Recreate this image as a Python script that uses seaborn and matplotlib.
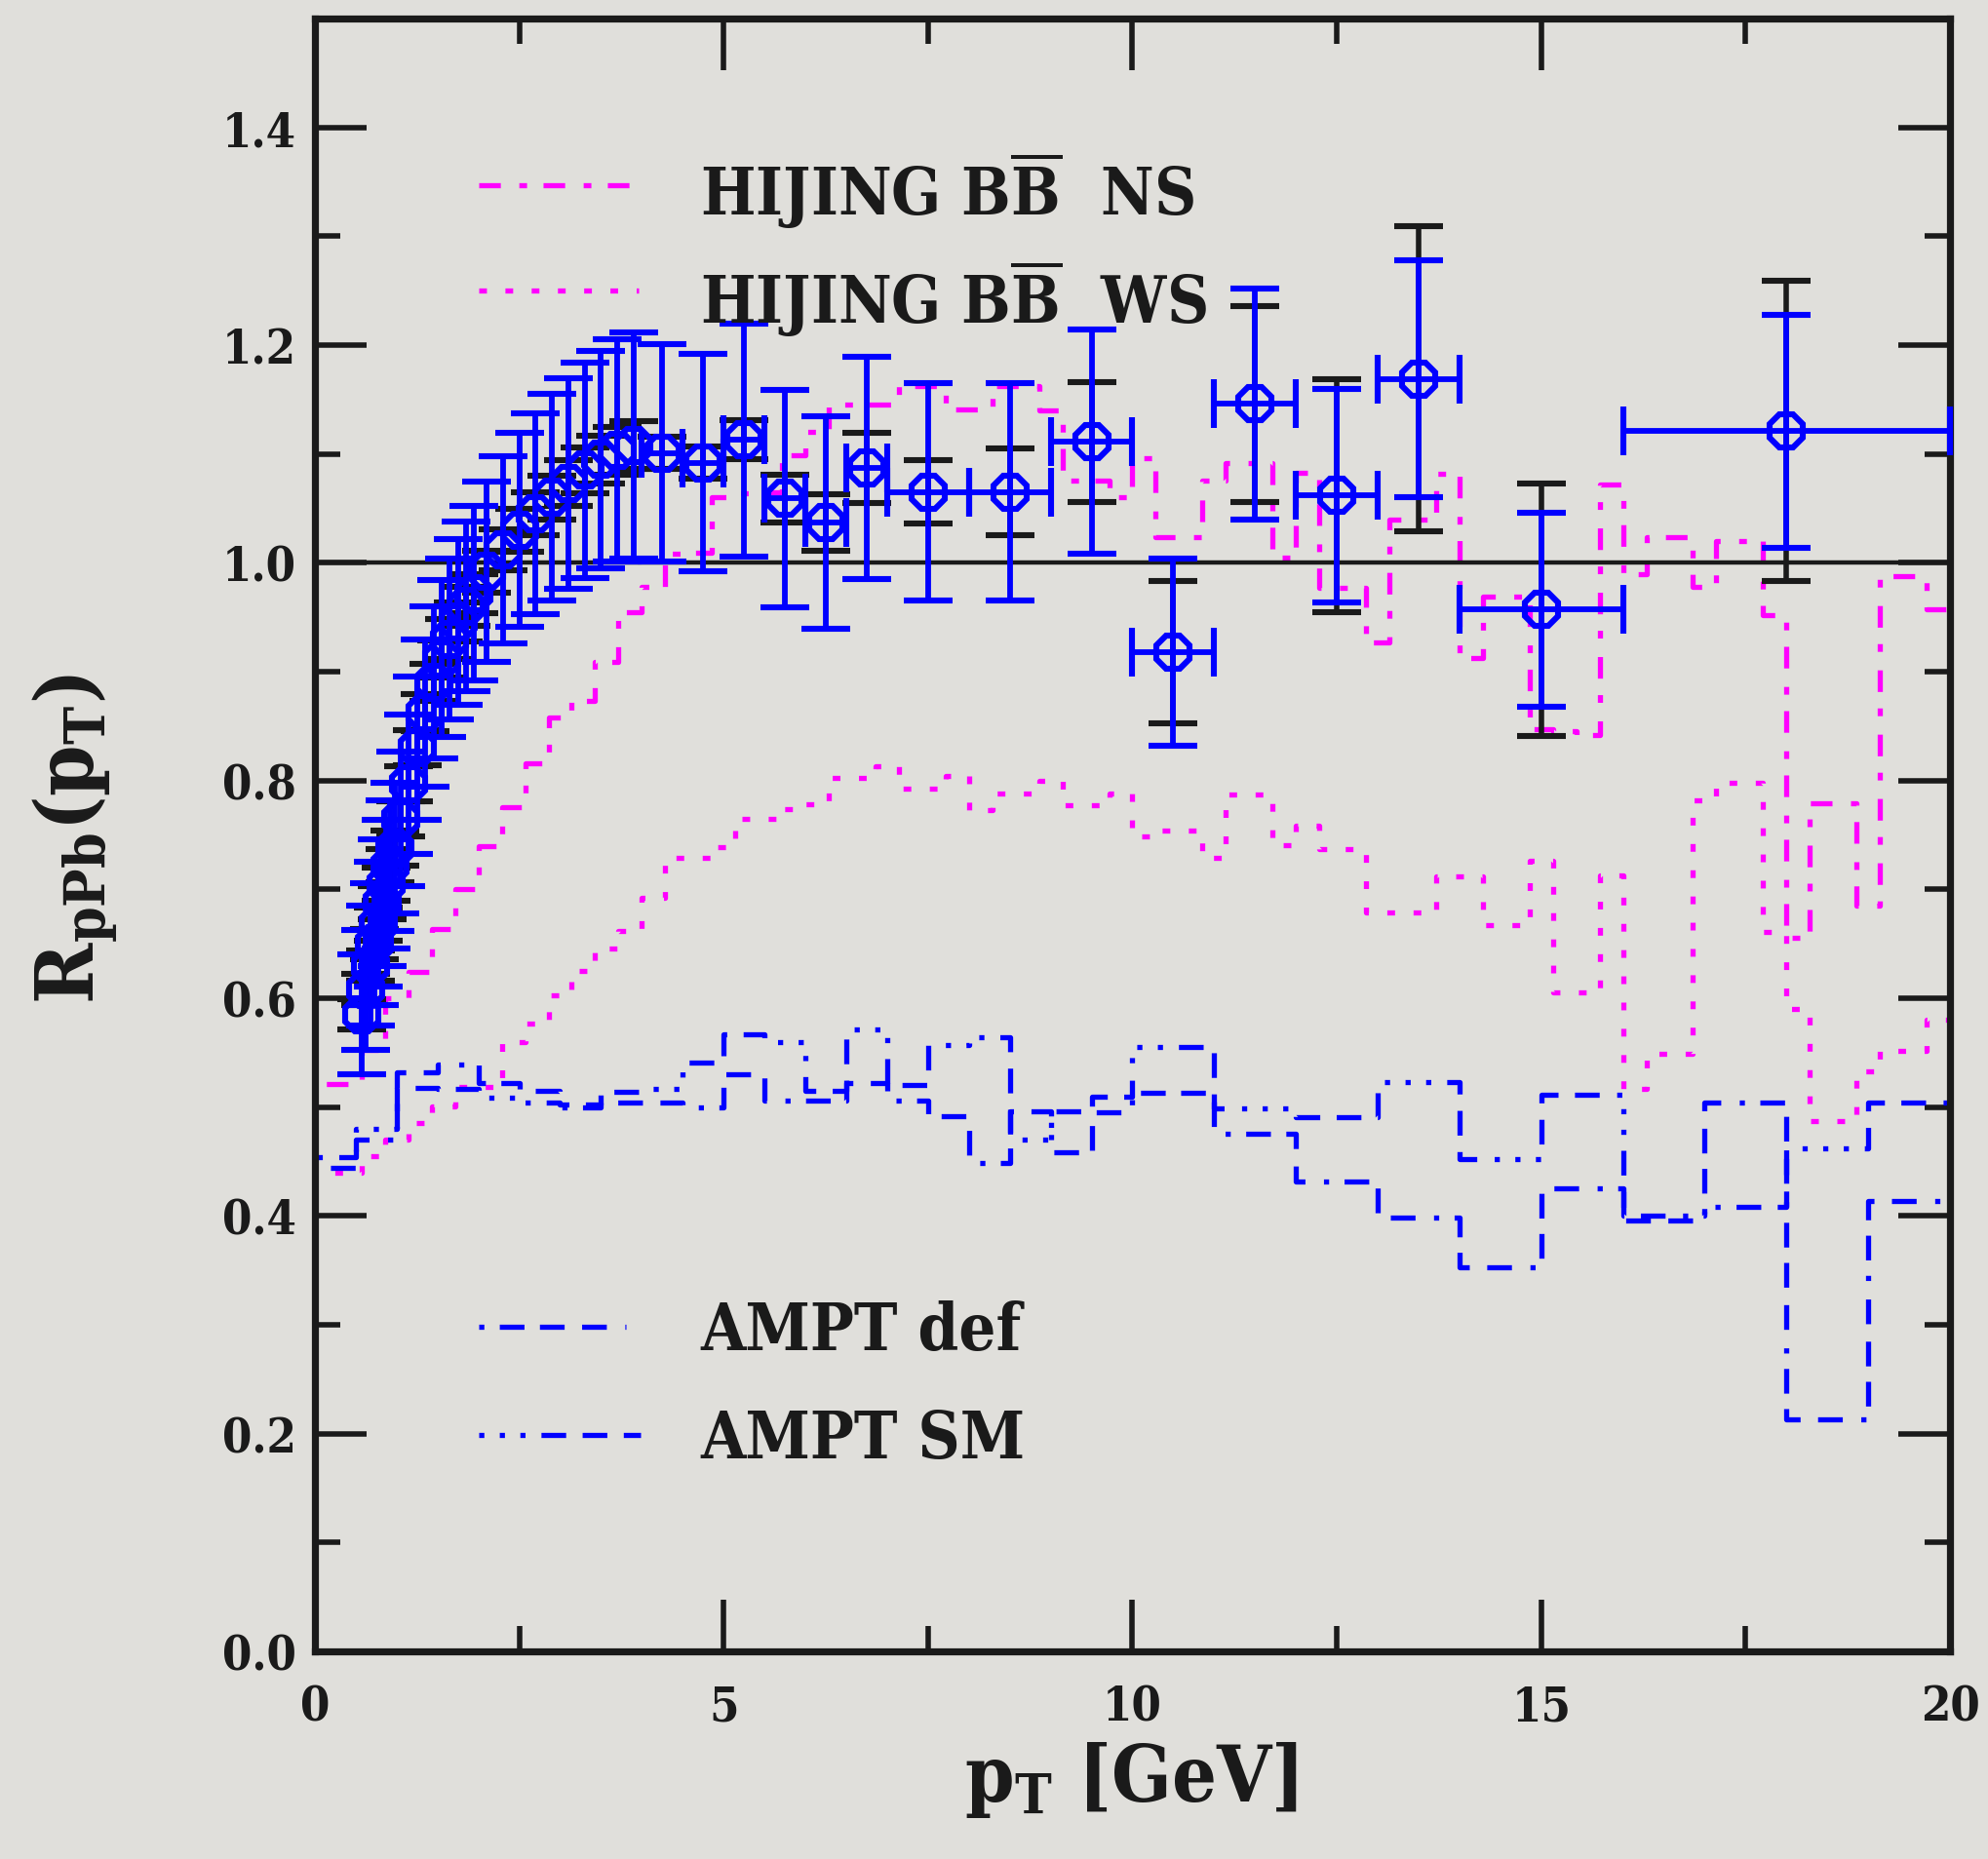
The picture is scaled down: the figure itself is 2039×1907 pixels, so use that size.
import numpy as np
import matplotlib
matplotlib.use("Agg")
import matplotlib.pyplot as plt
from matplotlib.ticker import MultipleLocator, FixedLocator
import seaborn as sns

# ---------------- data ----------------
# measured points, dense low-pT part
pt_lo = [0.575, 0.625, 0.675, 0.725, 0.775, 0.825, 0.875, 0.925, 0.975, 1.05, 1.15, 1.25,
         1.35, 1.45, 1.55, 1.65, 1.75, 1.85, 1.95, 2.1, 2.3, 2.5, 2.7, 2.9, 3.1, 3.3, 3.5,
         3.7, 3.9]
r_lo = [0.585, 0.608, 0.630, 0.650, 0.668, 0.688, 0.705, 0.722, 0.738, 0.765, 0.797, 0.830,
        0.862, 0.890, 0.912, 0.930, 0.946, 0.960, 0.972, 0.992, 1.012, 1.030, 1.045, 1.060,
        1.073, 1.085, 1.095, 1.103, 1.108]
stat_lo = [0.055, 0.055, 0.055, 0.056, 0.057, 0.058, 0.059, 0.06, 0.06, 0.062, 0.064, 0.066,
           0.068, 0.07, 0.072, 0.074, 0.076, 0.078, 0.08, 0.083, 0.086, 0.089, 0.092, 0.095,
           0.097, 0.099, 0.1, 0.102, 0.104]
sys_lo = [0.014, 0.014, 0.014, 0.014, 0.015, 0.015, 0.015, 0.015, 0.016, 0.016, 0.016, 0.016,
          0.017, 0.017, 0.017, 0.018, 0.018, 0.018, 0.018, 0.019, 0.019, 0.02, 0.02, 0.02,
          0.021, 0.021, 0.022, 0.022, 0.022]

# measured points, high-pT part
pt_hi = [4.25, 4.75, 5.25, 5.75, 6.25, 6.75, 7.5, 8.5, 9.5, 10.5, 11.5, 12.5, 13.5, 15.0, 18.0]
r_hi = [1.101, 1.092, 1.113, 1.059, 1.037, 1.087, 1.065, 1.065, 1.111, 0.918, 1.146, 1.062,
        1.169, 0.957, 1.121]
xerr_hi = [0.25, 0.25, 0.25, 0.25, 0.25, 0.25, 0.5, 0.5, 0.5, 0.5, 0.5, 0.5, 0.5, 1.0, 2.0]
stat_hi = [0.1, 0.1, 0.107, 0.1, 0.098, 0.102, 0.1, 0.1, 0.103, 0.086, 0.106, 0.098, 0.109,
           0.089, 0.107]
sys_hi = [0.015, 0.015, 0.018, 0.022, 0.026, 0.032, 0.029, 0.04, 0.055, 0.065, 0.09, 0.107,
          0.14, 0.116, 0.138]

# HIJING histograms (70 bins on 0-20 GeV)
hijing_edges = np.linspace(0.0, 20.0, 71)
hijing_ns = [0.521, 0.521, 0.553, 0.600, 0.624, 0.664, 0.700, 0.740, 0.776, 0.816,
             0.858, 0.873, 0.909, 0.955, 0.978, 1.008, 1.009, 1.060, 1.064, 1.065,
             1.099, 1.120, 1.145, 1.145, 1.145, 1.162, 1.162, 1.141, 1.141, 1.162,
             1.162, 1.140, 1.076, 1.076, 1.060, 1.096, 1.024, 1.024, 1.076, 1.092,
             1.092, 1.005, 1.083, 0.977, 0.977, 0.927, 1.040, 1.040, 1.082, 0.913,
             0.969, 0.969, 0.847, 0.845, 0.842, 1.072, 0.990, 1.024, 1.024, 0.978,
             1.020, 1.020, 0.952, 0.656, 0.779, 0.779, 0.685, 0.988, 0.988, 0.957]
hijing_ws = [0.440, 0.440, 0.455, 0.470, 0.485, 0.501, 0.519, 0.519, 0.560, 0.577,
             0.603, 0.625, 0.646, 0.662, 0.692, 0.729, 0.729, 0.739, 0.765, 0.765,
             0.774, 0.778, 0.802, 0.802, 0.813, 0.793, 0.793, 0.804, 0.773, 0.788,
             0.788, 0.800, 0.777, 0.777, 0.788, 0.749, 0.754, 0.754, 0.729, 0.787,
             0.787, 0.741, 0.759, 0.737, 0.737, 0.679, 0.679, 0.679, 0.712, 0.712,
             0.667, 0.667, 0.726, 0.605, 0.605, 0.713, 0.517, 0.549, 0.549, 0.782,
             0.798, 0.798, 0.661, 0.590, 0.487, 0.487, 0.533, 0.552, 0.552, 0.580]

# AMPT histograms (0.5 GeV bins to 10 GeV, 1 GeV bins above)
ampt_edges = [0.0, 0.5, 1.0, 1.5, 2.0, 2.5, 3.0, 3.5, 4.0, 4.5, 5.0, 5.5, 6.0, 6.5, 7.0,
              7.5, 8.0, 8.5, 9.0, 9.5, 10.0, 11.0, 12.0, 13.0, 14.0, 15.0, 16.0, 17.0,
              18.0, 19.0, 20.0]
ampt_def = [0.444, 0.470, 0.532, 0.539, 0.522, 0.515, 0.500, 0.504, 0.504, 0.500,
            0.530, 0.506, 0.506, 0.522, 0.506, 0.492, 0.449, 0.496, 0.459, 0.495,
            0.513, 0.476, 0.432, 0.399, 0.353, 0.425, 0.396, 0.504, 0.213, 0.414]
ampt_sm = [0.454, 0.480, 0.518, 0.517, 0.509, 0.504, 0.502, 0.514, 0.517, 0.541,
           0.567, 0.560, 0.515, 0.571, 0.520, 0.557, 0.564, 0.470, 0.496, 0.510,
           0.555, 0.499, 0.491, 0.523, 0.452, 0.511, 0.400, 0.408, 0.462, 0.504]

xticks = [0, 5, 10, 15, 20]
yticks = [0.0, 0.2, 0.4, 0.6, 0.8, 1.0, 1.2, 1.4]
legend_labels = [r"HIJING B$\overline{\mathrm{B}}$  NS", r"HIJING B$\overline{\mathrm{B}}$  WS",
                 "AMPT def", "AMPT SM"]

# ---------------- style ----------------
sns.set_theme(style="ticks")
BG = "#e0dfdb"
FAM = "DejaVu Serif"
plt.rcParams["font.family"] = [FAM, "DejaVu Sans"]
plt.rcParams["font.weight"] = "bold"
plt.rcParams["font.stretch"] = "condensed"
plt.rcParams["mathtext.fontset"] = "custom"
plt.rcParams["mathtext.rm"] = FAM + ":bold"
plt.rcParams["mathtext.it"] = FAM + ":bold"
plt.rcParams["mathtext.bf"] = FAM + ":bold"
for key in ["text.color", "axes.labelcolor", "xtick.color", "ytick.color", "axes.edgecolor"]:
    plt.rcParams[key] = "black"

MAG = "#ff00ff"
BLUE = "#0000ff"
LW = 1.9
ls_ns = (0, (4.2, 3.6, 1.5, 3.2))
ls_ws = (0, (1.5, 3.6))
ls_def = (0, (1.0, 3.0, 4.8, 3.0, 4.8, 3.4, 4.8, 3.6))
ls_sm = (0, (1.0, 3.0, 1.0, 3.0, 1.0, 3.1, 4.8, 3.2, 4.8, 3.2, 4.8, 3.4))

fig = plt.figure(figsize=(10.2, 9.54), dpi=200, facecolor=BG)
ax = fig.add_axes([0.1583, 0.1116, 0.8221, 0.8779], facecolor=BG)


def hist_xy(edges, vals):
    edges = np.asarray(edges, dtype=float)
    vals = np.asarray(vals, dtype=float)
    xs = np.concatenate([[edges[0]], edges, [edges[-1]]])
    ys = np.concatenate([[0.0], vals, [vals[-1], 0.0]])
    return xs, ys


for edges, vals, col, ls in [(hijing_edges, hijing_ns, MAG, ls_ns),
                             (hijing_edges, hijing_ws, MAG, ls_ws),
                             (ampt_edges, ampt_def, BLUE, ls_def),
                             (ampt_edges, ampt_sm, BLUE, ls_sm)]:
    xs, ys = hist_xy(edges, vals)
    sns.lineplot(x=xs, y=ys, sort=False, estimator=None, drawstyle="steps-post",
                 color=col, lw=LW, linestyle=ls, ax=ax, zorder=2, legend=False)

ax.axhline(1.0, color="k", lw=1.6, zorder=3)

# systematic (black) caps
ax.errorbar(pt_lo, r_lo, yerr=sys_lo, fmt="none", ecolor="k", elinewidth=2.0,
            capsize=9, capthick=2.2, zorder=4)
ax.errorbar(pt_hi, r_hi, yerr=sys_hi, fmt="none", ecolor="k", elinewidth=2.0,
            capsize=9, capthick=2.2, zorder=4, clip_on=False)
# statistical (blue) bars with octagon markers
ax.errorbar(pt_lo, r_lo, yerr=stat_lo, fmt="8", ms=13, mfc="none", mec=BLUE, mew=2.2,
            ecolor=BLUE, elinewidth=2.1, capsize=9, capthick=2.1, zorder=5)
ax.errorbar(pt_hi, r_hi, yerr=stat_hi, xerr=xerr_hi, fmt="8", ms=13, mfc="none", mec=BLUE,
            mew=2.2, ecolor=BLUE, elinewidth=2.1, capsize=9, capthick=2.1, zorder=5,
            clip_on=False)

ax.set_xlim(0, 20)
ax.set_ylim(0, 1.5)
ax.xaxis.set_major_locator(FixedLocator(xticks))
ax.xaxis.set_minor_locator(MultipleLocator(2.5))
ax.yaxis.set_major_locator(FixedLocator(yticks))
ax.yaxis.set_minor_locator(MultipleLocator(0.1))
ax.set_xticklabels([str(t) for t in xticks])
ax.set_yticklabels([f"{t:.1f}" for t in yticks])
ax.tick_params(which="both", direction="in", top=True, right=True, width=2.0,
               color="k", labelsize=17.5, labelcolor="k")
ax.tick_params(which="major", length=19)
ax.tick_params(which="minor", length=9.5)
ax.tick_params(axis="x", pad=12)
ax.tick_params(axis="y", pad=7)
for s in ax.spines.values():
    s.set_linewidth(2.6)
    s.set_color("k")
ax.set_xlabel("")
ax.set_ylabel("")
ax.grid(False)

# legend (drawn manually in axes coordinates)
leg = [(0.898, 0.8955, ls_ns, MAG, 0.1956),
       (0.8334, 0.8293, ls_ws, MAG, 0.1980),
       (0.1988, 0.1964, ls_def, BLUE, 0.1900),
       (0.1325, 0.1301, ls_sm, BLUE, 0.1990)]
for (ly, ty, ls, col, x1), lab in zip(leg, legend_labels):
    ax.plot([0.1002, x1], [ly, ly], transform=ax.transAxes, color=col, lw=LW,
            linestyle=ls, clip_on=False, zorder=6)
    ax.text(0.2355, ty, lab, transform=ax.transAxes, ha="left", va="center",
            fontsize=24, color="k", zorder=6)

fig.text(0.5686, 0.043, r"p$_{\mathrm{T}}$ [GeV]", ha="center", va="center", fontsize=29,
         color="k")
fig.text(0.038, 0.5487, r"R$_{\mathrm{pPb}}$(p$_{\mathrm{T}}$)", ha="center", va="center",
         fontsize=30, rotation=90, color="k")

fig.savefig("out.png", dpi=200, facecolor=BG)
